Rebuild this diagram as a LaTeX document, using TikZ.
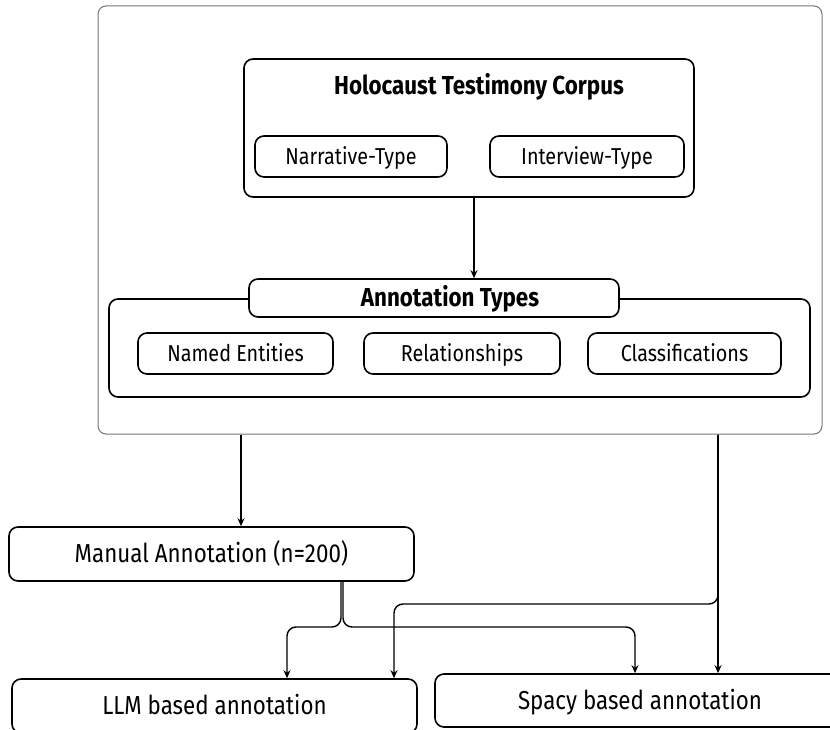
\documentclass[tikz,border=0pt]{standalone}
\usepackage{fontspec}
\setmainfont{Fira Sans}[FakeStretch=0.86]
\usetikzlibrary{arrows.meta}
\begin{document}
\begin{tikzpicture}[x=1pt,y=-1pt,
  box/.style={draw, line width=1.6pt, rounded corners=9pt, inner sep=0pt, align=center},
  small/.style={box, font=\fontsize{23}{26}\selectfont, text height=15.8pt, text depth=0pt},
  big/.style={box, font=\fontsize{26}{30}\selectfont, text height=17.9pt, text depth=0pt},
  frame/.style={draw=black!55, line width=1pt, rounded corners=8pt, inner sep=0pt},
  title/.style={font=\fontsize{26}{30}\selectfont\bfseries, inner sep=0pt,
    text height=17.9pt, text depth=0pt},
  arr/.style={-{Stealth[length=8pt,width=7pt]}, line width=1.4pt},
  link/.style={arr, rounded corners=9pt}]
\useasboundingbox (0,0) rectangle (830,730);
\clip (0,0) rectangle (830,730);

% outer frame around corpus and annotation types
\node[frame, minimum width=724pt, minimum height=428pt] (frame) at (460,220) {};

% corpus
\node[box, minimum width=450pt, minimum height=138pt] (corpus) at (469,128) {};
\node[title] (corpustitle) at (479,86) {Holocaust Testimony Corpus};
\node[small, minimum width=192pt, minimum height=41pt] (narr) at (351,156.5) {Narrative-Type};
\node[small, minimum width=194pt, minimum height=41pt] (inter) at (587,156.5) {Interview-Type};

% annotation types
\node[box, minimum width=701pt, minimum height=98pt] (anno) at (459.5,348) {};
\node[box, fill=white, minimum width=370pt, minimum height=38pt] (antitle) at (434,298) {};
\node[title] (antitletext) at (450,298) {Annotation Types};
\node[small, minimum width=195pt, minimum height=41pt] (ne) at (235.5,353.5) {Named Entities};
\node[small, minimum width=196pt, minimum height=41pt] (rel) at (462,353.5) {Relationships};
\node[small, minimum width=193pt, minimum height=41pt] (cls) at (684.5,353.5) {Classifications};

% annotation methods
\node[big, minimum width=405pt, minimum height=54pt] (manual) at (211.5,554) {Manual Annotation (n=200)};
\node[big, minimum width=405pt, minimum height=54pt] (llm) at (214.5,706) {LLM based annotation};
\node[big, minimum width=410pt, minimum height=53pt] (spacy) at (640,700.5) {Spacy based annotation};

% connectors
\draw[arr] ([xshift=5pt]corpus.south) -- ([xshift=5pt]corpus.south |- antitle.north);
\draw[arr] (241,0 |- frame.south) -- (241,0 |- manual.north);
\draw[arr] (718,0 |- frame.south) -- (718,0 |- spacy.north);
\draw[link] (718,0 |- frame.south) -- (718,604) -- (394,604) -- (394,0 |- llm.north);
\draw[link] (341,0 |- manual.south) -- (341,627) -- (287,627) -- (287,0 |- llm.north);
\draw[link] (343,0 |- manual.south) -- (343,627) -- (635,627) -- (635,0 |- spacy.north);
\end{tikzpicture}
\end{document}
